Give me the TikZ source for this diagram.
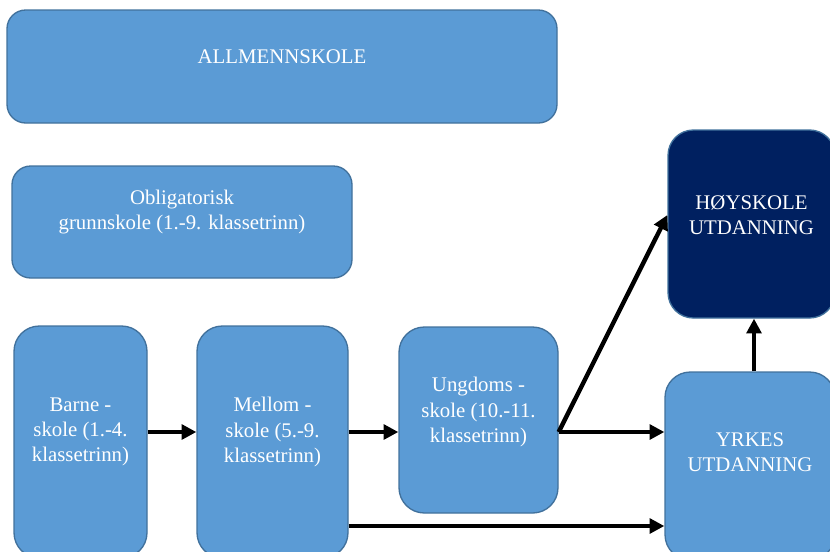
\documentclass[tikz,border=0pt]{standalone}
\usepackage{fontspec}
\setmainfont{Liberation Serif}
\usetikzlibrary{arrows.meta}
\definecolor{boxblue}{HTML}{5B9BD5}
\definecolor{boxedge}{HTML}{41719C}
\definecolor{navyblue}{HTML}{002060}
\begin{document}
\begin{tikzpicture}
[x=0.75pt,y=-0.75pt,
  boxdecorate/.style={draw=boxedge,line width=1pt},%
  textdecorate/.style={text=white,align=center,font=\fontsize{15.6}{19}\selectfont},%
  arrowdecorate/.style={-{Triangle[length=11pt,width=11pt]},line width=3.3pt}]
\useasboundingbox (0,0) rectangle (830,551);
\clip (0,0) rectangle (830,551);
%% boxes and their texts
\foreach \boxname/\cx/\cy/\w/\h/\r/\ty/\fillcolour/\boxtext in {
  allmenn/282/66.5/550/113/14/57/boxblue/{ALLMENNSKOLE},
  oblig/182/222/340/112/14/212/boxblue/{Obligatorisk\\grunnskole (1.-9. klassetrinn)},
  barne/80.5/442/133/232/19/432/boxblue/{Barne -\\skole (1.-4.\\klassetrinn)},
  mellom/272.5/442/151/232/19/432/boxblue/{Mellom -\\skole (5.-9.\\klassetrinn)},
  ungdoms/478.5/420/159/186/19/412/boxblue/{Ungdoms -\\skole (10.-11.\\klassetrinn)},
  hoyskole/751.5/224/167/188/19/215/navyblue/{HØYSKOLE\\UTDANNING},
  yrkes/750/466/170/188/19/452/boxblue/{YRKES\\UTDANNING}}
{
  \node (\boxname) at (\cx,\cy) [boxdecorate,fill=\fillcolour,rounded corners=\r pt,
    minimum width=\w*0.75pt,minimum height=\h*0.75pt,inner sep=0pt] {};
  \node (\boxname-txt) at (\cx,\ty) [textdecorate] {\boxtext};
}
%% arrows
\coordinate (low) at (0,526);
\coordinate (up) at (754,0);
\draw [arrowdecorate] (barne.east |- barne-txt) -- (mellom.west |- barne-txt);
\draw [arrowdecorate] (mellom.east |- mellom-txt) -- (ungdoms.west |- mellom-txt);
\draw [arrowdecorate] (ungdoms.east |- mellom-txt) -- (yrkes.west |- mellom-txt);
\draw [arrowdecorate] (ungdoms.east |- mellom-txt) -- (hoyskole.west |- hoyskole-txt);
\draw [arrowdecorate] (up |- yrkes.north) -- (up |- hoyskole.south);
\draw [arrowdecorate] (mellom.east |- low) -- (yrkes.west |- low);
\end{tikzpicture}
\end{document}
